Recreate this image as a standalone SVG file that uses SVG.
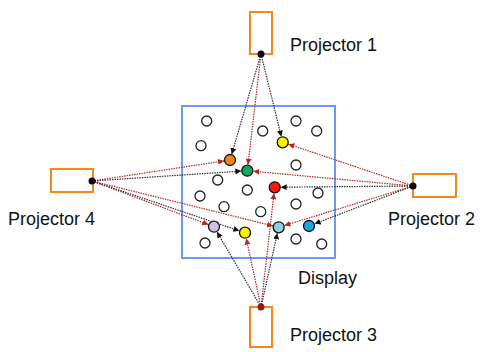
<svg xmlns="http://www.w3.org/2000/svg" width="482" height="352" viewBox="0 0 482 352">
<style>
.proj{fill:#fff;stroke:#F7861C;stroke-width:2}
.lbl{font-family:"Liberation Sans",Arial,sans-serif;font-size:18px;fill:#111}
.e{fill:#fff;stroke:#222;stroke-width:1.3}
.c{stroke:#111;stroke-width:1.3}
.bk{stroke:#333;stroke-width:1.2;stroke-dasharray:1.5 1;fill:none}
.rd{stroke:#B02A25;stroke-width:1.2;stroke-dasharray:1.5 1;fill:none}
</style>
<defs>
<marker id="ab" markerUnits="userSpaceOnUse" markerWidth="7" markerHeight="6" refX="6" refY="3" orient="auto"><path d="M0,0 L6,3 L0,6 Z" fill="#111"/></marker>
<marker id="ar" markerUnits="userSpaceOnUse" markerWidth="7" markerHeight="6" refX="6" refY="3" orient="auto"><path d="M0,0 L6,3 L0,6 Z" fill="#B02A25"/></marker>
</defs>
<rect x="0" y="0" width="482" height="352" fill="#fff"/>
<g id="display">
<rect x="182" y="106" width="153" height="152" fill="none" stroke="#6A9BF2" stroke-width="2"/>
<text class="lbl" x="298" y="284">Display</text>
</g>
<g id="empty-points">
<circle class="e" cx="206.7" cy="121" r="5"/>
<circle class="e" cx="201" cy="145.7" r="5"/>
<circle class="e" cx="262.7" cy="131" r="5"/>
<circle class="e" cx="296" cy="121" r="5"/>
<circle class="e" cx="316.7" cy="131" r="5"/>
<circle class="e" cx="296" cy="165" r="5"/>
<circle class="e" cx="217.7" cy="180" r="5"/>
<circle class="e" cx="247.3" cy="190" r="5"/>
<circle class="e" cx="200" cy="196" r="5"/>
<circle class="e" cx="318" cy="193" r="5"/>
<circle class="e" cx="224" cy="206.7" r="5"/>
<circle class="e" cx="260.7" cy="211.7" r="5"/>
<circle class="e" cx="296" cy="204" r="5"/>
<circle class="e" cx="205" cy="243" r="5"/>
<circle class="e" cx="296" cy="239" r="5"/>
<circle class="e" cx="321.7" cy="244" r="5"/>
</g>
<g id="connectors">
<line class="bk" x1="261" y1="54" x2="231.7" y2="154.2" marker-end="url(#ab)"/>
<line class="bk" x1="261" y1="54" x2="281.3" y2="136.5" marker-end="url(#ab)"/>
<line class="rd" x1="261" y1="54" x2="248.0" y2="164.7" marker-end="url(#ar)"/>
<line class="rd" x1="92" y1="181" x2="224.1" y2="160.9" marker-end="url(#ar)"/>
<line class="bk" x1="92" y1="181" x2="241.3" y2="171.1" marker-end="url(#ab)"/>
<line class="rd" x1="92" y1="181" x2="272.9" y2="225.9" marker-end="url(#ar)"/>
<line class="rd" x1="92" y1="181" x2="208.4" y2="224.6" marker-end="url(#ar)"/>
<line class="bk" x1="92" y1="181" x2="239.3" y2="230.8" marker-end="url(#ab)"/>
<line class="rd" x1="413" y1="186" x2="288.4" y2="144.2" marker-end="url(#ar)"/>
<line class="rd" x1="413" y1="186" x2="253.3" y2="171.3" marker-end="url(#ar)"/>
<line class="bk" x1="413" y1="186" x2="280.7" y2="187.2" marker-end="url(#ab)"/>
<line class="rd" x1="413" y1="186" x2="284.4" y2="225.5" marker-end="url(#ar)"/>
<line class="bk" x1="413" y1="186" x2="314.6" y2="223.8" marker-end="url(#ab)"/>
<line class="bk" x1="261" y1="307" x2="217.0" y2="231.9" marker-end="url(#ab)"/>
<line class="rd" x1="261" y1="307" x2="246.3" y2="238.6" marker-end="url(#ar)"/>
<line class="rd" x1="261" y1="307" x2="274.0" y2="193.3" marker-end="url(#ar)"/>
<line class="bk" x1="261" y1="307" x2="277.4" y2="233.2" marker-end="url(#ab)"/>
</g>
<g id="colored-points">
<circle class="c" cx="230" cy="160" r="5.5" fill="#F58220"/>
<circle class="c" cx="282.7" cy="142.3" r="5.5" fill="#FFF200"/>
<circle class="c" cx="247.3" cy="170.7" r="5.5" fill="#11A85A"/>
<circle class="c" cx="274.7" cy="187.3" r="5.5" fill="#F21B0C"/>
<circle class="c" cx="214" cy="226.7" r="5.5" fill="#C9C4DE"/>
<circle class="c" cx="245" cy="232.7" r="5.5" fill="#FFF200"/>
<circle class="c" cx="278.7" cy="227.3" r="5.5" fill="#8ECFE0"/>
<circle class="c" cx="309" cy="226" r="5.5" fill="#18A8E2"/>
</g>
<g id="projector1">
<rect class="proj" x="250" y="12" width="22" height="42"/>
<circle cx="261" cy="54" r="3.5" fill="#000"/>
<text class="lbl" x="290" y="51">Projector 1</text>
</g>
<g id="projector2">
<rect class="proj" x="413" y="174" width="43" height="23"/>
<circle cx="413" cy="186" r="3.5" fill="#000"/>
<text class="lbl" x="388" y="225">Projector 2</text>
</g>
<g id="projector3">
<rect class="proj" x="250" y="307" width="22" height="40"/>
<circle cx="261" cy="307" r="3.5" fill="#8B1A10"/>
<text class="lbl" x="290" y="341">Projector 3</text>
</g>
<g id="projector4">
<rect class="proj" x="51" y="169" width="42" height="23"/>
<circle cx="92" cy="181" r="3.5" fill="#000"/>
<text class="lbl" x="8" y="225">Projector 4</text>
</g>
</svg>
